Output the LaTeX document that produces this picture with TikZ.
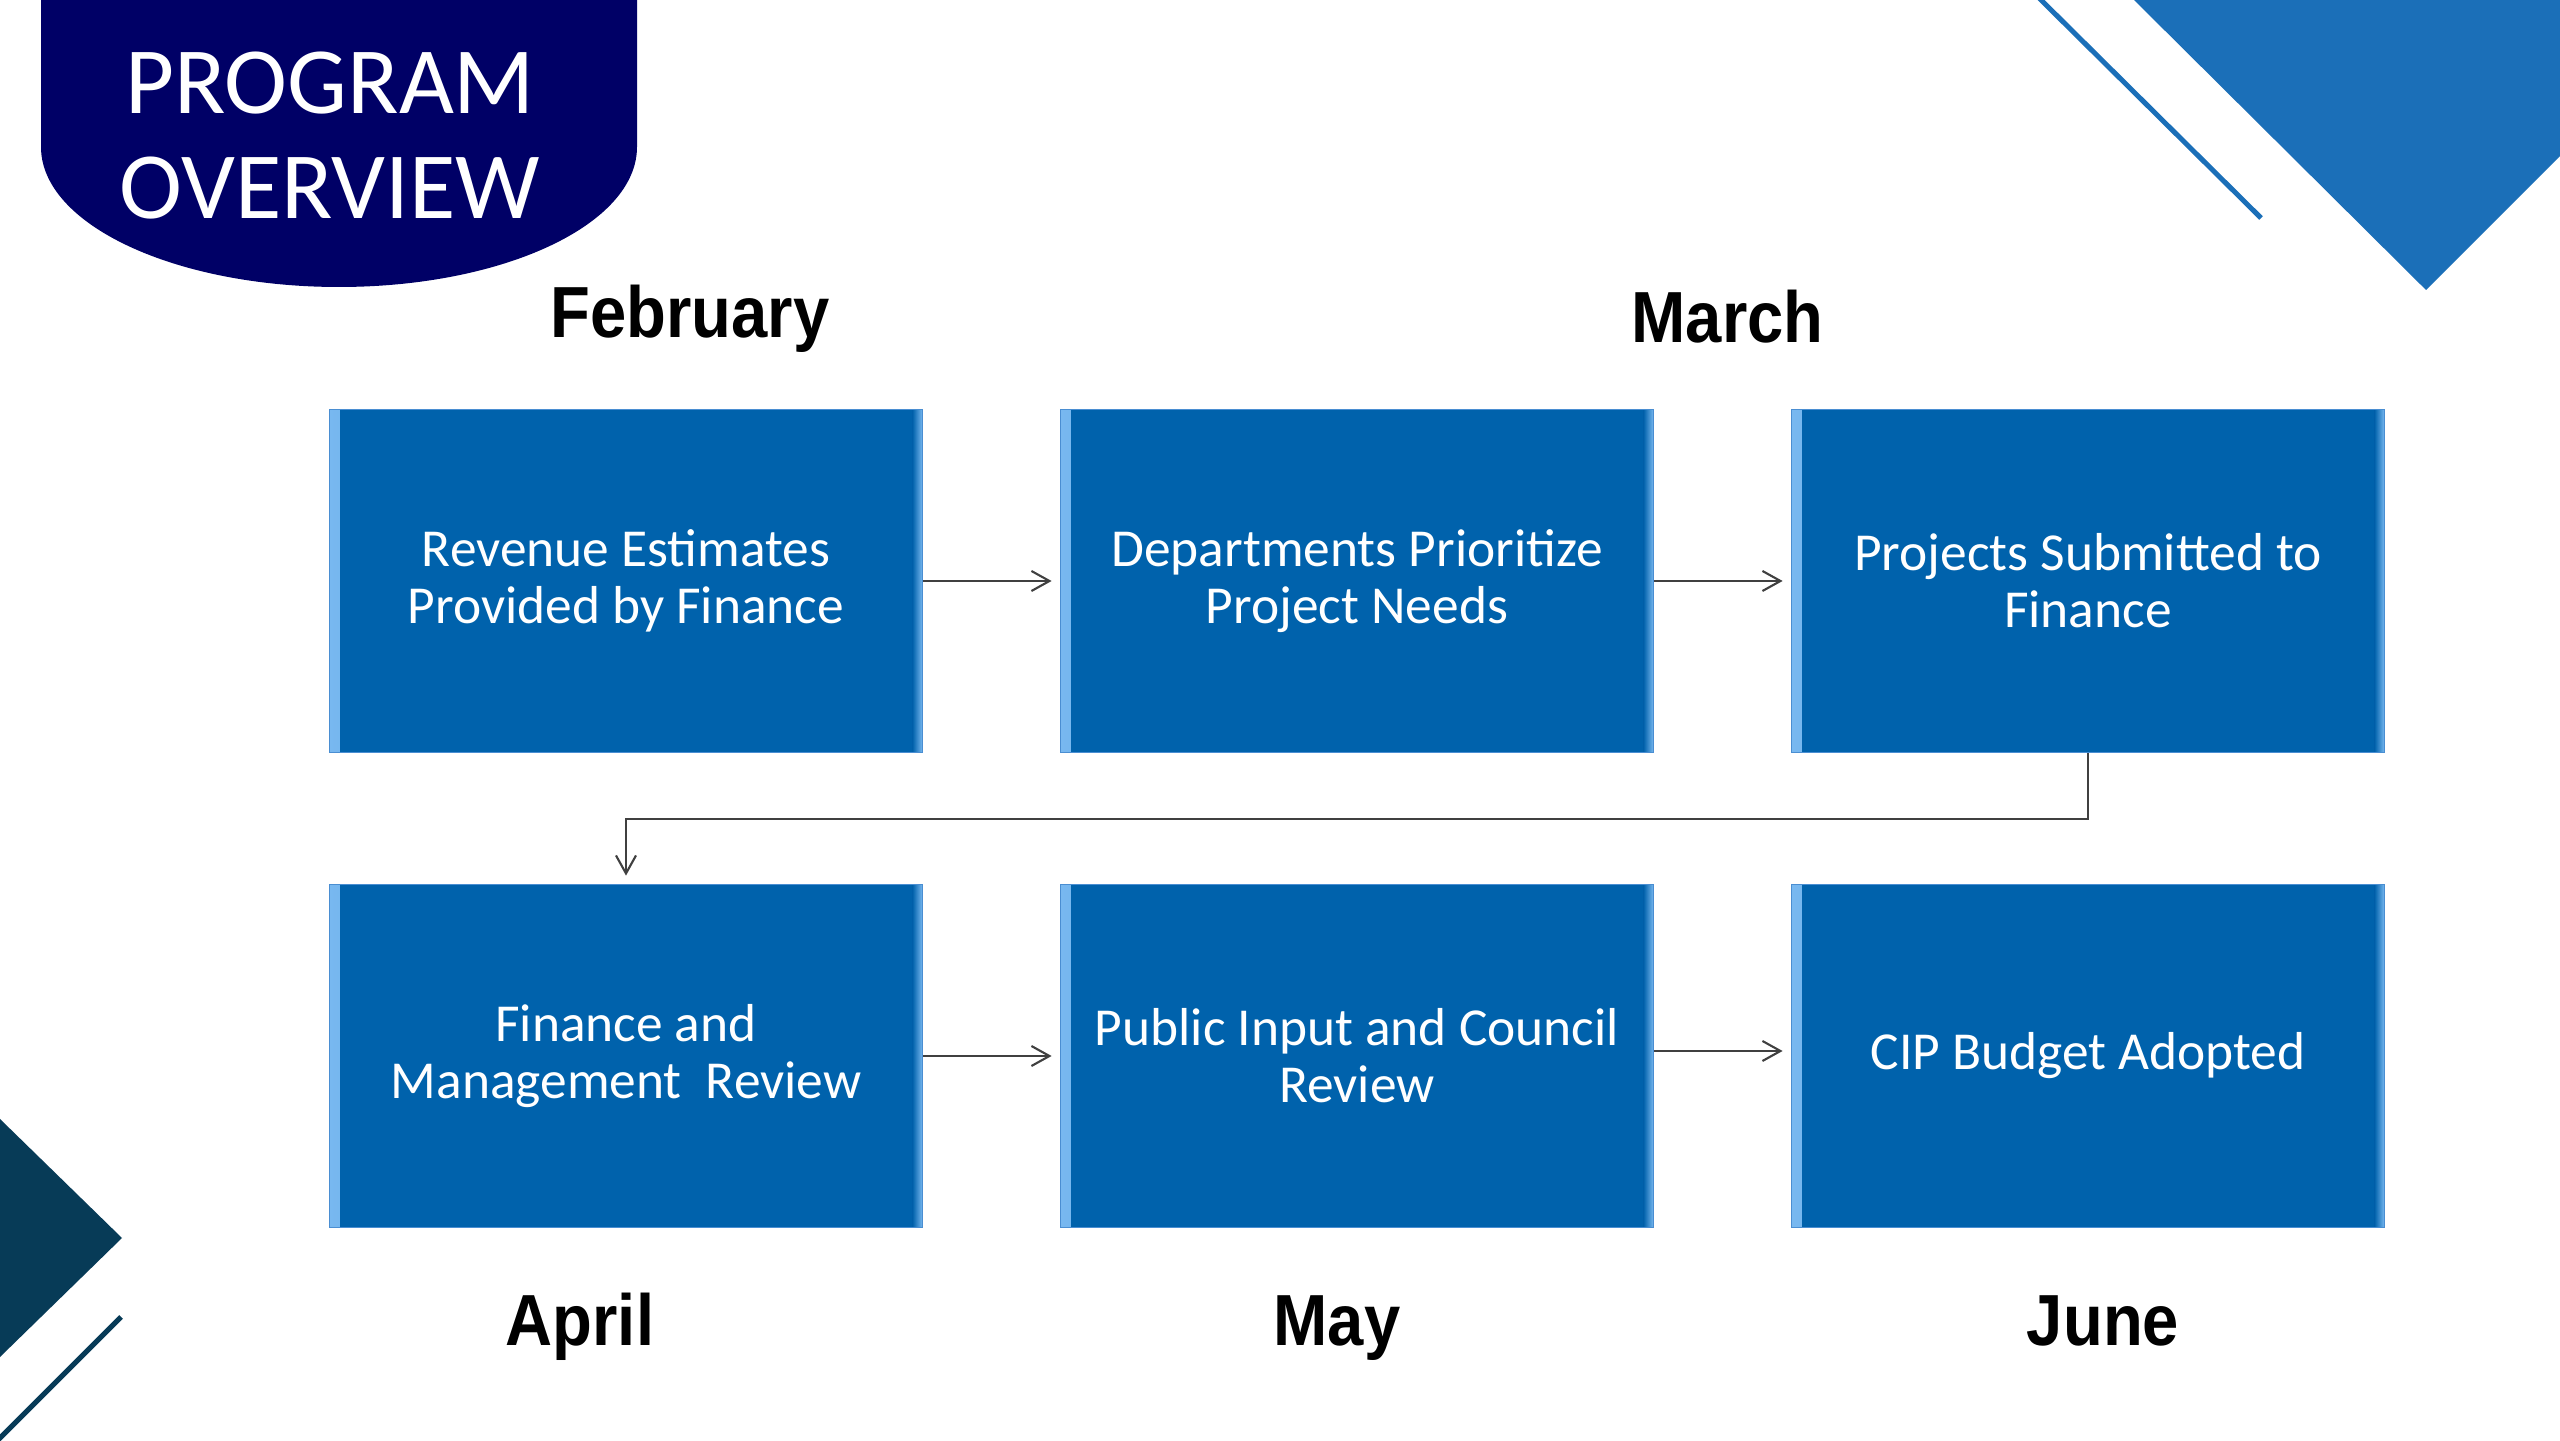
\documentclass[tikz,border=0pt]{standalone}
\usepackage{fontspec}
\setmainfont{Carlito}
\newfontfamily\monthfont[FakeStretch=0.9]{Liberation Sans}
\usetikzlibrary{arrows.meta}

\definecolor{navy}{RGB}{0,0,102}
\definecolor{boxblue}{RGB}{0,98,172}
\definecolor{bevel}{RGB}{120,184,240}
\definecolor{edgeblue}{RGB}{74,142,210}
\definecolor{cornerblue}{RGB}{27,111,184}
\definecolor{cornerteal}{RGB}{7,59,87}
\definecolor{linkgray}{RGB}{64,64,64}

\tikzset{
    stepbox/.style={draw=edgeblue, line width=0.5pt, fill=boxblue, text=white,
        minimum width=5.93cm, minimum height=3.43cm, inner sep=0pt, align=center,
        font=\fontsize{15.2}{16.2}\selectfont,
        path picture={
            \shade[left color=bevel, right color=boxblue]
                (path picture bounding box.south west) rectangle ([xshift=0.1cm]path picture bounding box.north west);
            \shade[left color=boxblue, right color=bevel]
                ([xshift=-0.1cm]path picture bounding box.south east) rectangle (path picture bounding box.north east);
        }},
    month/.style={anchor=base, font=\monthfont\bfseries\fontsize{20.6}{24}\selectfont},
    title/.style={text=white, align=center, font=\fontsize{27}{29.8}\selectfont},
    link/.style={draw=linkgray, line width=0.6pt, -{Straight Barb[length=0.18cm, width=0.2cm]}, shorten >=0.08cm}
}

\begin{document}
\begin{tikzpicture}
    \useasboundingbox (0, 0) rectangle (25.6, 14.4);
    \fill[white] (0, 0) rectangle (25.6, 14.4);

    \fill[cornerblue] (21.34, 14.4) -- (24.26, 11.50) -- (25.6, 12.84) -- (25.6, 14.4) -- cycle;
    \draw[cornerblue, line width=0.05cm] (20.36, 14.45) -- (22.61, 12.22);
    \fill[cornerteal] (0, 3.21) -- (1.22, 2.02) -- (0, 0.83) -- cycle;
    \draw[cornerteal, line width=0.05cm] (1.21, 1.23) -- (-0.02, 0);

    \fill[navy] (0.41, 14.4) -- (0.41, 12.93) arc[start angle=180, end angle=360, x radius=2.98, y radius=1.40] -- (6.37, 14.4) -- cycle;
    \node[title] (Title) at (3.30, 13.045) {PROGRAM\\OVERVIEW};

    \node[month] (Feb) at (6.90, 11.02) {February};
    \node[month] (Mar) at (17.275, 10.97) {March};
    \node[month] (Apr) at (5.80, 0.95) {April};
    \node[month] (May) at (13.37, 0.95) {May};
    \node[month] (Jun) at (21.03, 0.95) {June};

    \node[stepbox] (Box_1) at (6.26, 8.59) {Revenue Estimates\\Provided by Finance};
    \node[stepbox] (Box_2) at (13.57, 8.59) {Departments Prioritize\\Project Needs};
    \node[stepbox] (Box_3) at (20.88, 8.59) {Projects Submitted to\\Finance};
    \node[stepbox] (Box_4) at (6.26, 3.84) {Finance and\\Management~ Review};
    \node[stepbox] (Box_5) at (13.57, 3.84) {Public Input and Council\\Review};
    \node[stepbox] (Box_6) at (20.88, 3.84) {CIP Budget Adopted};

    \draw[link] (Box_1) -- (Box_2);
    \draw[link] (Box_2) -- (Box_3);
    \draw[link] (Box_3.south) -- ++(0, -0.66) -| (Box_4.north);
    \draw[link] (Box_4) -- (Box_5);
    \draw[link] ([yshift=0.05cm]Box_5.east) -- ([yshift=0.05cm]Box_6.west);
\end{tikzpicture}
\end{document}
